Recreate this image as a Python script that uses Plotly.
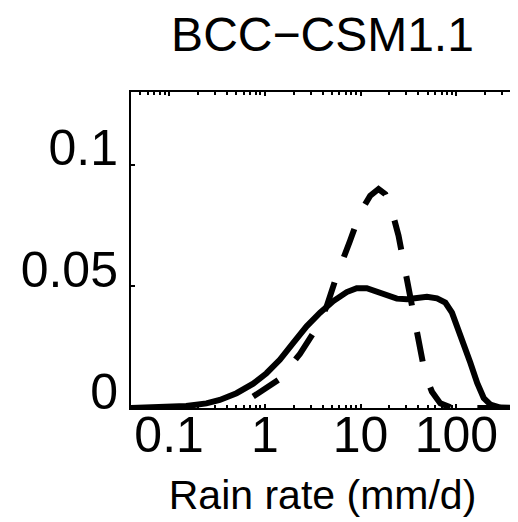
import plotly.graph_objects as go

# Solid curve (rain rate mm/d, frequency)
solid_x = [0.04, 0.068, 0.151, 0.245, 0.338, 0.506, 0.755, 1.04, 1.44, 1.98, 2.73, 3.77,
           5.19, 7.17, 9.1, 11.6, 14.8, 18.8, 23.9, 30.5, 38.8, 49.3, 62.8, 76.7, 90,
           102, 119, 140, 165, 193, 227, 288, 400]
solid_y = [0.0, 0.0002, 0.0008, 0.0019, 0.0033, 0.0061, 0.0100, 0.0143, 0.0199, 0.0268,
           0.0336, 0.0392, 0.0440, 0.0477, 0.0493, 0.0493, 0.0479, 0.0468, 0.0450, 0.0447,
           0.0451, 0.0458, 0.0451, 0.0434, 0.0392, 0.0336, 0.0268, 0.0186, 0.0103, 0.0041,
           0.0014, 0.0002, 0.0]

# Dashed curve
dash_x = [0.755, 1.04, 1.44, 2.33, 2.84, 3.48, 4.43, 5.63, 7.76, 9.9, 12.6, 15.4, 18.1,
          21.2, 24.9, 29.2, 33, 37.2, 42, 47.3, 55.6, 68, 90, 150, 400]
dash_y = [0.0047, 0.0082, 0.0120, 0.0223, 0.0274, 0.0330, 0.0419, 0.0544, 0.0688, 0.0804,
          0.0873, 0.0901, 0.0880, 0.0812, 0.0709, 0.0571, 0.0460, 0.0336, 0.0226, 0.0136,
          0.0067, 0.0019, 0.0, 0.0, 0.0]

x_tickvals = [0.1, 1, 10, 100]
x_ticktext = ["0.1", "1", "10", "100"]
y_tickvals = [0, 0.05, 0.1]
y_ticktext = ["0", "0.05", "0.1"]

FONT = "Liberation Sans, Arial, sans-serif"

fig = go.Figure()
fig.add_trace(go.Scatter(x=solid_x, y=solid_y, mode="lines",
                         line=dict(color="black", width=6), showlegend=False))
fig.add_trace(go.Scatter(x=dash_x, y=dash_y, mode="lines",
                         line=dict(color="black", width=6, dash="30px,27px"),
                         showlegend=False))

# page body adds an 8px offset, so the figure is 8px smaller and shifted
fig.update_layout(
    width=510, height=514,
    margin=dict(l=123, r=4, t=84, b=114, autoexpand=False),
    paper_bgcolor="white", plot_bgcolor="white",
    font=dict(family=FONT, color="black"),
    title=dict(text="BCC−CSM1.1", x=0.5, xref="paper", xanchor="center",
               y=1 - 26 / 514, yref="container", yanchor="middle",
               font=dict(size=48, family=FONT, color="black")),
)

fig.update_xaxes(
    type="log", range=[-1.398, 2.602], automargin=False,
    tickvals=x_tickvals, ticktext=x_ticktext,
    ticks="inside", ticklen=4, tickwidth=1.5, tickcolor="black",
    minor=dict(ticks="inside", ticklen=3, tickwidth=1.5, tickcolor="black", dtick="D1", showgrid=False),
    showline=True, linecolor="black", linewidth=2, mirror="allticks",
    showgrid=False, zeroline=False,
    tickfont=dict(size=50, family=FONT, color="black"),
    ticklabelstandoff=-18,
    title=dict(text="Rain rate (mm/d)", font=dict(size=41, family=FONT, color="black"), standoff=18),
)
fig.update_yaxes(
    range=[0, 0.13], automargin=False,
    tickvals=y_tickvals, ticktext=y_ticktext,
    ticks="inside", ticklen=4, tickwidth=1.5, tickcolor="black",
    showline=True, linecolor="black", linewidth=2, mirror="allticks",
    showgrid=False, zeroline=False,
    tickfont=dict(size=50, family=FONT, color="black"),
    ticklabelstandoff=1, ticklabelshift=-17,
)

fig.write_html("out.html")
